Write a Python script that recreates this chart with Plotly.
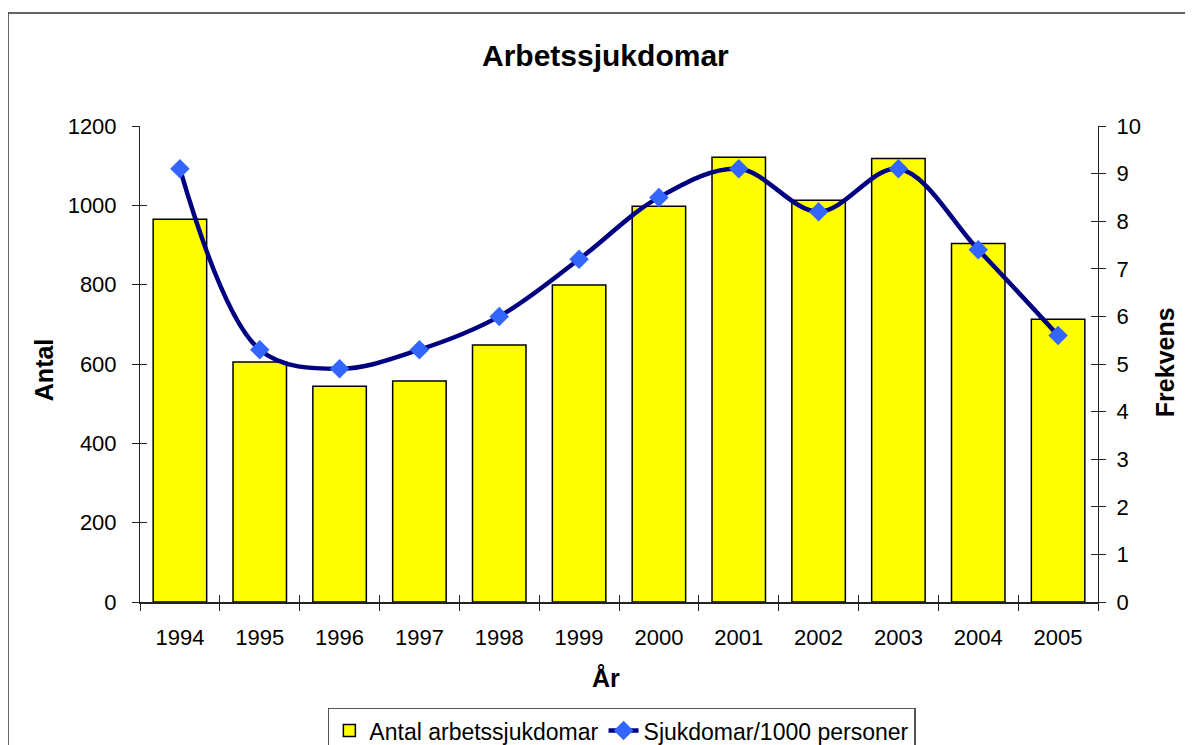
import plotly.graph_objects as go

years = ["1994", "1995", "1996", "1997", "1998", "1999", "2000", "2001", "2002", "2003", "2004", "2005"]
antal = [965, 605, 544, 557, 648, 799, 998, 1121, 1013, 1118, 904, 713]
frekvens = [9.1, 5.3, 4.9, 5.3, 6.0, 7.2, 8.5, 9.1, 8.2, 9.1, 7.4, 5.6]
left_ticks = [0, 200, 400, 600, 800, 1000, 1200]
right_ticks = list(range(0, 11))

FONT = "Arial, Liberation Sans, sans-serif"
AX = "#222222"

fig = go.Figure()
fig.add_trace(go.Bar(
    x=years, y=antal, name="Antal arbetssjukdomar",
    marker=dict(color="#FFFF00", line=dict(color="#000000", width=1.5)),
    xaxis="x", yaxis="y",
))
fig.add_trace(go.Scatter(
    x=years, y=frekvens, name="Sjukdomar/1000 personer",
    mode="lines+markers",
    line=dict(color="#000080", width=4.5, shape="spline", smoothing=1.0),
    marker=dict(symbol="diamond", size=15, color="#3366FF"),
    xaxis="x", yaxis="y2",
))
# empty helper traces so the overlay (inside-tick) axes are drawn
fig.add_trace(go.Scatter(x=[], y=[], xaxis="x2", yaxis="y3", showlegend=False, hoverinfo="skip"))
fig.add_trace(go.Scatter(x=[], y=[], xaxis="x2", yaxis="y4", showlegend=False, hoverinfo="skip"))

nb = len(years)
bounds = [i - 0.5 for i in range(nb + 1)]

fig.update_layout(
    width=1193, height=745, autosize=False,
    margin=dict(l=132, r=103, t=118, b=151, autoexpand=False),
    paper_bgcolor="white", plot_bgcolor="white",
    font=dict(family=FONT, size=22, color="#000000"),
    bargap=0.33,
    showlegend=True,
    legend=dict(
        orientation="h", x=0.503, xanchor="center", y=-0.222, yanchor="top",
        bordercolor="#555555", borderwidth=1.5, bgcolor="white",
        font=dict(family=FONT, size=23), itemwidth=30, tracegroupgap=0,
    ),
    xaxis=dict(
        type="category", range=[-0.5, nb - 0.5], tickson="boundaries",
        ticks="outside", ticklen=7, tickcolor=AX, tickwidth=1,
        showline=True, linecolor=AX, linewidth=1.5,
        showgrid=False, zeroline=False, ticklabelstandoff=15,
    ),
    xaxis2=dict(
        overlaying="x", anchor="y", side="bottom", type="linear",
        range=[-0.5, nb - 0.5], tickmode="array", tickvals=bounds,
        ticks="inside", ticklen=7, tickcolor=AX, tickwidth=1,
        showticklabels=False, showline=False, showgrid=False, zeroline=False,
    ),
    yaxis=dict(
        range=[0, 1200], tickmode="array", tickvals=left_ticks,
        ticks="outside", ticklen=7, tickcolor=AX, tickwidth=1,
        showline=True, linecolor=AX, linewidth=1,
        showgrid=False, zeroline=False, ticklabelstandoff=11,
    ),
    yaxis3=dict(
        overlaying="y", anchor="x2", side="left",
        range=[0, 1200], tickmode="array", tickvals=left_ticks,
        ticks="inside", ticklen=7, tickcolor=AX, tickwidth=1,
        showticklabels=False, showline=False, showgrid=False, zeroline=False,
    ),
    yaxis2=dict(
        overlaying="y", anchor="x", side="right",
        range=[0, 10], tickmode="array", tickvals=right_ticks,
        ticks="outside", ticklen=7, tickcolor=AX, tickwidth=1,
        showline=True, linecolor=AX, linewidth=1,
        showgrid=False, zeroline=False, ticklabelstandoff=6,
    ),
    yaxis4=dict(
        overlaying="y", anchor="x2", side="right",
        range=[0, 10], tickmode="array", tickvals=right_ticks,
        ticks="inside", ticklen=7, tickcolor=AX, tickwidth=1,
        showticklabels=False, showline=False, showgrid=False, zeroline=False,
    ),
)

annots = [
    dict(text="<b>Arbetssjukdomar</b>", x=0.486, y=1.149, size=30, angle=0),
    dict(text="<b>Antal</b>", x=-0.1002, y=0.487, size=25, angle=-90),
    dict(text="<b>Frekvens</b>", x=1.07, y=0.504, size=25, angle=-90),
    dict(text="<b>År</b>", x=0.486, y=-0.16, size=25, angle=0),
]
for a in annots:
    fig.add_annotation(xref="paper", yref="paper", showarrow=False,
                       xanchor="center", yanchor="middle",
                       font=dict(family=FONT, size=a["size"], color="#000000"),
                       text=a["text"], x=a["x"], y=a["y"], textangle=a["angle"])

# chart area border
fig.add_shape(type="rect", xref="paper", yref="paper",
              x0=-0.1378, y0=-0.33, x1=1.12, y1=1.2374,
              line=dict(color="#333333", width=1.5), fillcolor="rgba(0,0,0,0)", layer="below")

fig.write_html("out.html")
